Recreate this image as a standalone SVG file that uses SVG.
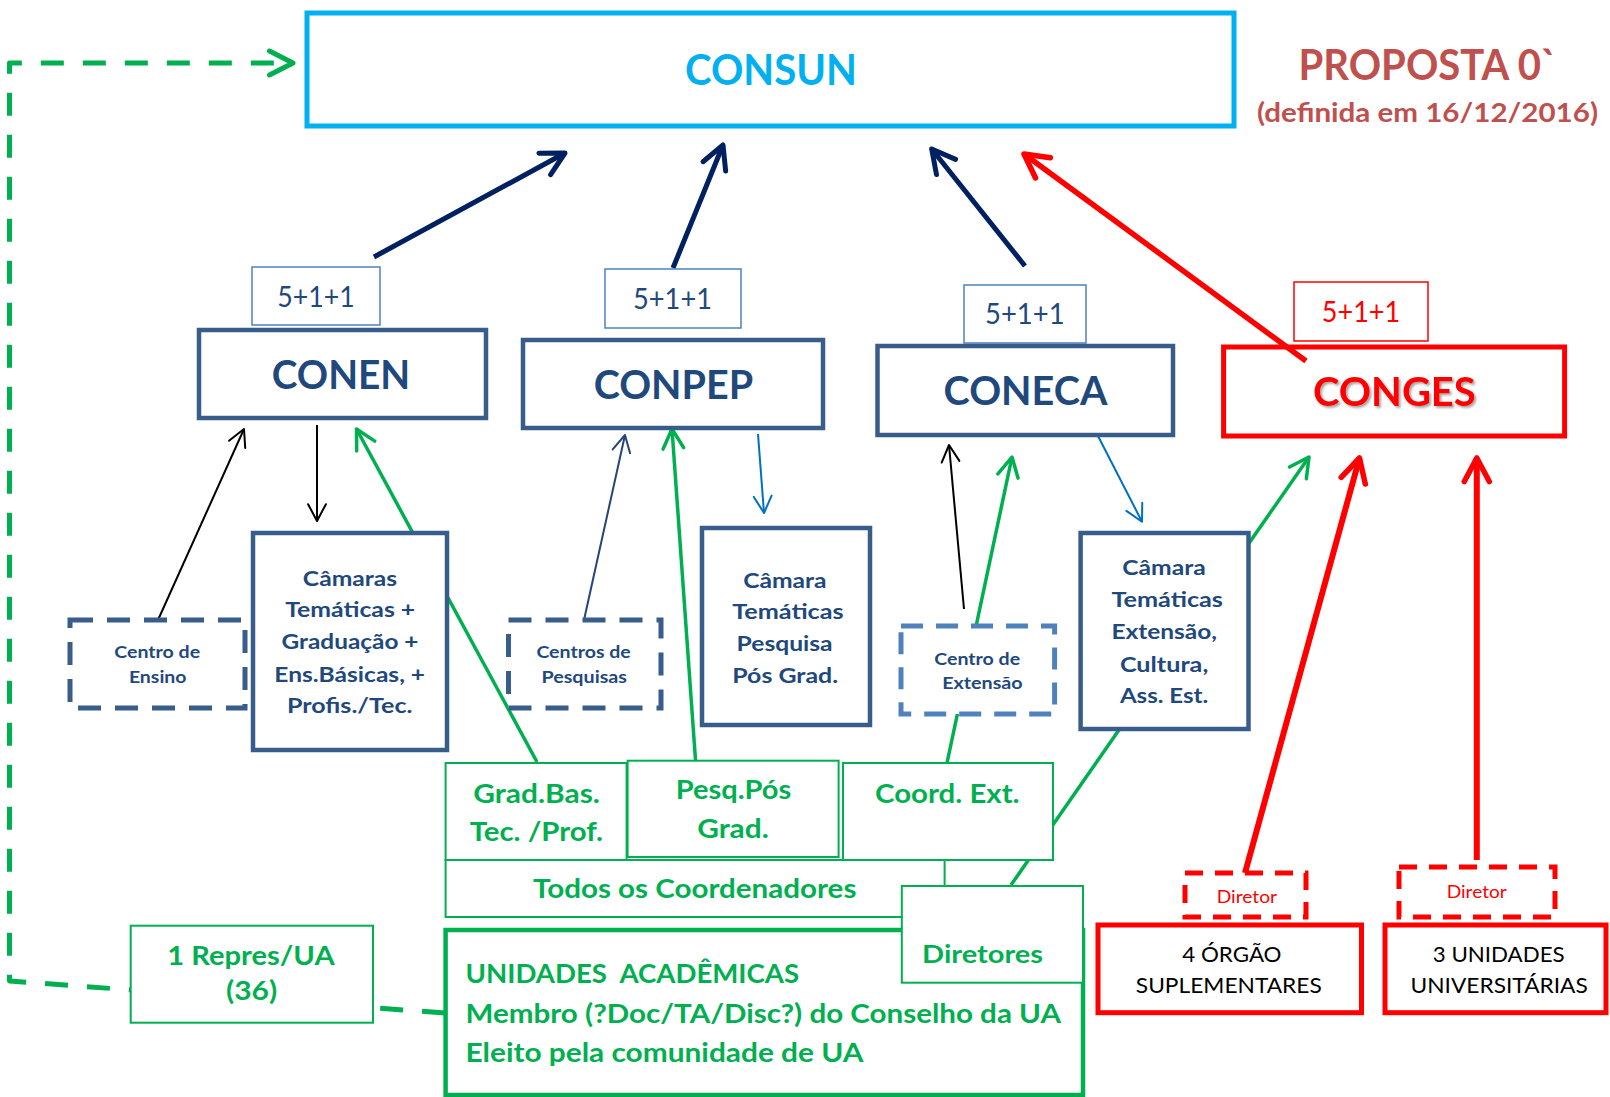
<svg xmlns="http://www.w3.org/2000/svg" width="1610" height="1097" viewBox="0 0 1610 1097">
<style>
text { font-family: Lato, 'Liberation Sans', sans-serif; text-anchor: middle; }
.b { font-weight: bold; }
.node { fill: #fff; stroke: #385D8A; stroke-width: 4.5; }
.dn { fill: #fff; stroke: #385D8A; stroke-width: 5; stroke-dasharray: 23 14; }
.dl { fill: #fff; stroke: #4F81BD; stroke-width: 5; stroke-dasharray: 22 13; }
.sm { fill: #fff; stroke: #4F81BD; stroke-width: 1.5; }
.g { fill: #fff; stroke: #00B050; stroke-width: 2; }
.rd { fill: #fff; stroke: #FF0000; stroke-width: 5; }
.rdd { fill: #fff; stroke: #FF0000; stroke-width: 5; stroke-dasharray: 18 12; }
.nt { fill: #1F497D; font-weight: bold; }
.gt { fill: #00B050; font-weight: bold; }
.st { fill: #1F497D; }
.bk { fill: #000; }
.c { fill: none; stroke-linejoin: round; }
</style>
<defs>
<marker id="hNavy" markerUnits="userSpaceOnUse" orient="auto" markerWidth="60" markerHeight="60" refX="0" refY="0" overflow="visible"><path d="M-23,-12.2 L0,0 L-23,12.2" fill="none" stroke="#002060" stroke-width="5" stroke-linecap="round" stroke-linejoin="round"/></marker>
<marker id="hRed" markerUnits="userSpaceOnUse" orient="auto" markerWidth="60" markerHeight="60" refX="0" refY="0" overflow="visible"><path d="M-23.5,-12.5 L0,0 L-23.5,12.5" fill="none" stroke="#FF0000" stroke-width="5.5" stroke-linecap="round" stroke-linejoin="round"/></marker>
<marker id="hGreen" markerUnits="userSpaceOnUse" orient="auto" markerWidth="60" markerHeight="60" refX="0" refY="0" overflow="visible"><path d="M-19.4,-10.3 L0,0 L-19.4,10.3" fill="none" stroke="#00B050" stroke-width="3.5" stroke-linecap="round" stroke-linejoin="round"/></marker>
<marker id="hGreenD" markerUnits="userSpaceOnUse" orient="auto" markerWidth="60" markerHeight="60" refX="0" refY="0" overflow="visible"><path d="M-23.5,-12 L0,0 L-23.5,12" fill="none" stroke="#00B050" stroke-width="5" stroke-linecap="round" stroke-linejoin="round"/></marker>
<marker id="hBlack" markerUnits="userSpaceOnUse" orient="auto" markerWidth="60" markerHeight="60" refX="0" refY="0" overflow="visible"><path d="M-16.8,-8.9 L0,0 L-16.8,8.9" fill="none" stroke="#000" stroke-width="2" stroke-linecap="round" stroke-linejoin="round"/></marker>
<marker id="hDark" markerUnits="userSpaceOnUse" orient="auto" markerWidth="60" markerHeight="60" refX="0" refY="0" overflow="visible"><path d="M-16.8,-8.9 L0,0 L-16.8,8.9" fill="none" stroke="#264478" stroke-width="2" stroke-linecap="round" stroke-linejoin="round"/></marker>
<marker id="hBlue" markerUnits="userSpaceOnUse" orient="auto" markerWidth="60" markerHeight="60" refX="0" refY="0" overflow="visible"><path d="M-16.8,-8.9 L0,0 L-16.8,8.9" fill="none" stroke="#0070C0" stroke-width="2" stroke-linecap="round" stroke-linejoin="round"/></marker>
<filter id="sh" x="-10%" y="-20%" width="130%" height="150%"><feDropShadow dx="2" dy="2" stdDeviation="1" flood-color="#000" flood-opacity="0.35"/></filter>
</defs>

<g id="connectors">
  <path class="c" d="M445,1013 L9.5,981 L9.5,63 L293,63" stroke="#00B050" stroke-width="5" stroke-dasharray="23 19" marker-end="url(#hGreenD)"/>
  <line class="c" x1="374" y1="257" x2="565" y2="153" stroke="#002060" stroke-width="5" marker-end="url(#hNavy)"/>
  <line class="c" x1="673" y1="268" x2="723" y2="145" stroke="#002060" stroke-width="5" marker-end="url(#hNavy)"/>
  <line class="c" x1="1025" y1="266" x2="931.7" y2="149" stroke="#002060" stroke-width="5" marker-end="url(#hNavy)"/>
  <line class="c" x1="1306" y1="361" x2="1024" y2="154" stroke="#FF0000" stroke-width="5.5" marker-end="url(#hRed)"/>
  <line class="c" x1="158" y1="620" x2="244" y2="429" stroke="#000" stroke-width="2" marker-end="url(#hBlack)"/>
  <line class="c" x1="317" y1="425" x2="317" y2="521" stroke="#000" stroke-width="2" marker-end="url(#hBlack)"/>
  <line class="c" x1="964" y1="609" x2="949" y2="445" stroke="#000" stroke-width="2" marker-end="url(#hBlack)"/>
  <line class="c" x1="537" y1="762" x2="356.5" y2="429" stroke="#00B050" stroke-width="3.5" marker-end="url(#hGreen)"/>
  <line class="c" x1="695.5" y1="760" x2="672" y2="429" stroke="#00B050" stroke-width="3.5" marker-end="url(#hGreen)"/>
  <line class="c" x1="947" y1="763" x2="1012" y2="457" stroke="#00B050" stroke-width="3.5" marker-end="url(#hGreen)"/>
  <line class="c" x1="1011" y1="885" x2="1309" y2="457" stroke="#00B050" stroke-width="3.5" marker-end="url(#hGreen)"/>
  <line class="c" x1="584" y1="620" x2="625" y2="435" stroke="#264478" stroke-width="2" marker-end="url(#hDark)"/>
  <line class="c" x1="758" y1="434" x2="764" y2="513" stroke="#0070C0" stroke-width="2" marker-end="url(#hBlue)"/>
  <line class="c" x1="1098" y1="436" x2="1142" y2="521.7" stroke="#0070C0" stroke-width="2" marker-end="url(#hBlue)"/>
  <line class="c" x1="1245" y1="873" x2="1359.5" y2="458" stroke="#FF0000" stroke-width="6" marker-end="url(#hRed)"/>
  <line class="c" x1="1476.8" y1="860" x2="1476.8" y2="458" stroke="#FF0000" stroke-width="6" marker-end="url(#hRed)"/>
</g>

<g id="consun">
  <rect x="307" y="13" width="927" height="113" fill="#fff" stroke="#00B0F0" stroke-width="5"/>
  <text x="771" y="85" font-size="42" class="b" fill="#00B0F0" textLength="172" lengthAdjust="spacingAndGlyphs">CONSUN</text>
</g>
<g id="title">
  <text x="1427.8" y="80" font-size="42" class="b" fill="#C0504D" textLength="258.5" lengthAdjust="spacingAndGlyphs">PROPOSTA 0`</text>
  <text x="1427.5" y="122" font-size="27" class="b" fill="#C0504D" textLength="341" lengthAdjust="spacingAndGlyphs">(definida em 16/12/2016)</text>
</g>

<g id="label-conen">
  <rect class="sm" x="252" y="267" width="128" height="58"/>
  <text class="st" x="316" y="307.3" font-size="28" textLength="77.5" lengthAdjust="spacingAndGlyphs">5+1+1</text>
</g>
<g id="label-conpep">
  <rect class="sm" x="605" y="269" width="136" height="59"/>
  <text class="st" x="672.5" y="309" font-size="28" textLength="79" lengthAdjust="spacingAndGlyphs">5+1+1</text>
</g>
<g id="label-coneca">
  <rect class="sm" x="964" y="285" width="122" height="58"/>
  <text class="st" x="1024.8" y="324.3" font-size="28" textLength="79.5" lengthAdjust="spacingAndGlyphs">5+1+1</text>
</g>
<g id="label-conges">
  <rect x="1294" y="282" width="134" height="59" fill="#fff" stroke="#FF0000" stroke-width="1.5"/>
  <text x="1361" y="321.7" font-size="28" fill="#FF0000" textLength="78.5" lengthAdjust="spacingAndGlyphs">5+1+1</text>
</g>

<g id="conen">
  <rect class="node" x="199" y="330" width="287" height="88"/>
  <text class="nt" x="341" y="389.3" font-size="41" textLength="138.5" lengthAdjust="spacingAndGlyphs">CONEN</text>
</g>
<g id="conpep">
  <rect class="node" x="523" y="340" width="300" height="88"/>
  <text class="nt" x="673.4" y="399" font-size="41" textLength="159.5" lengthAdjust="spacingAndGlyphs">CONPEP</text>
</g>
<g id="coneca">
  <rect class="node" x="877.5" y="346" width="295.5" height="89"/>
  <text class="nt" x="1025.5" y="405" font-size="41" textLength="163.8" lengthAdjust="spacingAndGlyphs">CONECA</text>
</g>
<g id="conges">
  <rect x="1223.6" y="347" width="341" height="89" fill="none" stroke="#FF0000" stroke-width="5"/>
  <text x="1394.4" y="406" font-size="41" class="b" fill="#FF0000" filter="url(#sh)" textLength="162.7" lengthAdjust="spacingAndGlyphs">CONGES</text>
</g>

<g id="centro-ensino">
  <rect class="dn" x="70" y="620" width="175" height="88"/>
  <text class="nt" x="157.2" y="658.3" font-size="17.5" textLength="86" lengthAdjust="spacingAndGlyphs">Centro de</text>
  <text class="nt" x="157.7" y="683.3" font-size="17.5" textLength="57.6" lengthAdjust="spacingAndGlyphs">Ensino</text>
</g>
<g id="camaras-graduacao">
  <rect class="node" x="253" y="533" width="194" height="217"/>
  <text class="nt" x="350" y="585.7" font-size="21" textLength="94.3" lengthAdjust="spacingAndGlyphs">Câmaras</text>
  <text class="nt" x="350.2" y="616.7" font-size="21" textLength="130" lengthAdjust="spacingAndGlyphs">Temáticas +</text>
  <text class="nt" x="350" y="649.3" font-size="21" textLength="137" lengthAdjust="spacingAndGlyphs">Graduação +</text>
  <text class="nt" x="349.7" y="681.7" font-size="21" textLength="150.8" lengthAdjust="spacingAndGlyphs">Ens.Básicas, +</text>
  <text class="nt" x="349.7" y="713.3" font-size="21" textLength="125.6" lengthAdjust="spacingAndGlyphs">Profis./Tec.</text>
</g>
<g id="centros-pesquisas">
  <rect class="dn" x="508.5" y="620" width="152.5" height="88"/>
  <text class="nt" x="583.6" y="658.3" font-size="17.5" textLength="94.4" lengthAdjust="spacingAndGlyphs">Centros de</text>
  <text class="nt" x="584.2" y="683.3" font-size="17.5" textLength="85.6" lengthAdjust="spacingAndGlyphs">Pesquisas</text>
</g>
<g id="camara-pesquisa">
  <rect class="node" x="702" y="528" width="168" height="197"/>
  <text class="nt" x="784.9" y="587.7" font-size="21" textLength="83.4" lengthAdjust="spacingAndGlyphs">Câmara</text>
  <text class="nt" x="787.9" y="619.3" font-size="21" textLength="111.4" lengthAdjust="spacingAndGlyphs">Temáticas</text>
  <text class="nt" x="784.6" y="650.7" font-size="21" textLength="96" lengthAdjust="spacingAndGlyphs">Pesquisa</text>
  <text class="nt" x="785.2" y="682.7" font-size="21" textLength="105.9" lengthAdjust="spacingAndGlyphs">Pós Grad.</text>
</g>
<g id="centro-extensao">
  <rect class="dl" x="901" y="626" width="153.6" height="88"/>
  <text class="nt" x="977.2" y="665" font-size="17.5" textLength="86" lengthAdjust="spacingAndGlyphs">Centro de</text>
  <text class="nt" x="982.4" y="689.3" font-size="17.5" textLength="80.5" lengthAdjust="spacingAndGlyphs">Extensão</text>
</g>
<g id="camara-extensao">
  <rect class="node" x="1080.6" y="533" width="167.9" height="196"/>
  <text class="nt" x="1164" y="575" font-size="21" textLength="83.5" lengthAdjust="spacingAndGlyphs">Câmara</text>
  <text class="nt" x="1167.2" y="607.3" font-size="21" textLength="111.5" lengthAdjust="spacingAndGlyphs">Temáticas</text>
  <text class="nt" x="1164.2" y="639.3" font-size="21" textLength="105.6" lengthAdjust="spacingAndGlyphs">Extensão,</text>
  <text class="nt" x="1164.1" y="671.7" font-size="21" textLength="88.4" lengthAdjust="spacingAndGlyphs">Cultura,</text>
  <text class="nt" x="1164.1" y="703.3" font-size="21" textLength="88.4" lengthAdjust="spacingAndGlyphs">Ass. Est.</text>
</g>

<g id="todos-coordenadores">
  <rect class="g" x="445.6" y="860" width="499" height="57"/>
  <text class="gt" x="694.7" y="898.3" font-size="26" textLength="323.4" lengthAdjust="spacingAndGlyphs">Todos os Coordenadores</text>
</g>
<g id="grad-bas">
  <rect class="g" x="445.6" y="763" width="181" height="97"/>
  <text class="gt" x="536.6" y="802.7" font-size="27" textLength="126.6" lengthAdjust="spacingAndGlyphs">Grad.Bas.</text>
  <text class="gt" x="536.4" y="840.7" font-size="27" textLength="133.4" lengthAdjust="spacingAndGlyphs">Tec. /Prof.</text>
</g>
<g id="pesq-pos">
  <rect class="g" x="627.6" y="760.7" width="211" height="96.3"/>
  <text class="gt" x="733.5" y="799.3" font-size="26" textLength="115.6" lengthAdjust="spacingAndGlyphs">Pesq.Pós</text>
  <text class="gt" x="733" y="838.3" font-size="26" textLength="71.6" lengthAdjust="spacingAndGlyphs">Grad.</text>
</g>
<g id="coord-ext">
  <rect class="g" x="843" y="763" width="210" height="97"/>
  <text class="gt" x="947.3" y="802.7" font-size="27" textLength="144.6" lengthAdjust="spacingAndGlyphs">Coord. Ext.</text>
</g>
<g id="unidades-academicas">
  <rect x="445.6" y="930" width="637.4" height="165" fill="#fff" stroke="#00B050" stroke-width="4.5"/>
  <text class="gt" x="465.5" y="983.3" font-size="26" style="text-anchor:start" xml:space="preserve" textLength="333.6" lengthAdjust="spacingAndGlyphs">UNIDADES  ACADÊMICAS</text>
  <text class="gt" x="465.5" y="1023.3" font-size="26" style="text-anchor:start" textLength="595.5" lengthAdjust="spacingAndGlyphs">Membro (?Doc/TA/Disc?) do Conselho da UA</text>
  <text class="gt" x="465.5" y="1061.7" font-size="26" style="text-anchor:start" textLength="398" lengthAdjust="spacingAndGlyphs">Eleito pela comunidade de UA</text>
</g>
<g id="diretores">
  <rect class="g" x="901.8" y="886" width="181.2" height="96.7"/>
  <text class="gt" x="982.6" y="962.7" font-size="25" textLength="121" lengthAdjust="spacingAndGlyphs">Diretores</text>
</g>
<g id="repres-ua">
  <rect class="g" x="130.7" y="925.7" width="242.3" height="97"/>
  <text class="gt" x="251" y="965" font-size="26" textLength="167.3" lengthAdjust="spacingAndGlyphs">1 Repres/UA</text>
  <text class="gt" x="251.6" y="1000" font-size="26" textLength="51.2" lengthAdjust="spacingAndGlyphs">(36)</text>
</g>

<g id="diretor-orgaos">
  <rect class="rdd" x="1185" y="873" width="121" height="44"/>
  <text x="1246.9" y="902.7" font-size="18" fill="#FF0000" textLength="60.4" lengthAdjust="spacingAndGlyphs">Diretor</text>
</g>
<g id="diretor-unidades">
  <rect class="rdd" x="1399" y="867" width="156" height="50"/>
  <text x="1476.7" y="898.3" font-size="18" fill="#FF0000" textLength="60" lengthAdjust="spacingAndGlyphs">Diretor</text>
</g>
<g id="orgaos-suplementares">
  <rect class="rd" x="1098" y="925" width="263.5" height="87.7"/>
  <text class="bk" x="1231.9" y="961.7" font-size="21" textLength="99.2" lengthAdjust="spacingAndGlyphs">4 ÓRGÃO</text>
  <text class="bk" x="1228.8" y="993.3" font-size="21" textLength="186" lengthAdjust="spacingAndGlyphs">SUPLEMENTARES</text>
</g>
<g id="unidades-universitarias">
  <rect class="rd" x="1385" y="925" width="221" height="87.7"/>
  <text class="bk" x="1498.7" y="961.7" font-size="21" textLength="131.8" lengthAdjust="spacingAndGlyphs">3 UNIDADES</text>
  <text class="bk" x="1499.2" y="993.3" font-size="21" textLength="177.2" lengthAdjust="spacingAndGlyphs">UNIVERSITÁRIAS</text>
</g>
</svg>
